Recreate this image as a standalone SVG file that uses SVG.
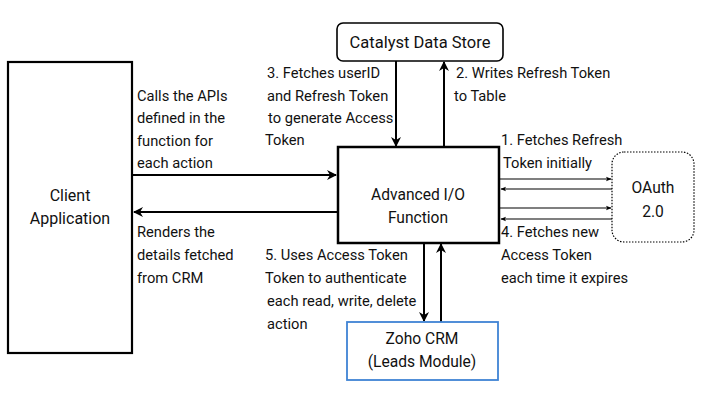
<svg xmlns="http://www.w3.org/2000/svg" width="706" height="403" viewBox="0 0 706 403">
<style>
text{font-family:Roboto,"Liberation Sans",sans-serif;fill:#111}
.lbl{font-size:14.7px}
.node{font-size:15.6px;text-anchor:middle}
.box{fill:#fff;stroke:#000;stroke-width:2.2}
.c{stroke:#000;stroke-width:2;fill:none}
.t{stroke:#000;stroke-width:1.1;fill:none}
</style>
<defs>
<marker id="ah" viewBox="0 0 10 10" refX="9" refY="5" markerWidth="5" markerHeight="5" orient="auto" markerUnits="strokeWidth"><path d="M0,0 L10,5 L0,10 L3,5 z" fill="#000"/></marker>
<marker id="as" viewBox="0 0 10 10" refX="9" refY="5" markerWidth="5" markerHeight="5" orient="auto" markerUnits="strokeWidth"><path d="M0,1 L10,5 L0,9 L2,5 z" fill="#000"/></marker>
</defs>
<rect width="706" height="403" fill="#fff"/>
<g id="connectors">
<line class="c" x1="132" y1="175" x2="336" y2="175" marker-end="url(#ah)"/>
<line class="c" x1="337" y1="212" x2="134" y2="212" marker-end="url(#ah)"/>
<line class="c" x1="396" y1="61" x2="396" y2="146" marker-end="url(#ah)"/>
<line class="c" x1="444" y1="147" x2="444" y2="62" marker-end="url(#ah)"/>
<line class="c" x1="424" y1="243" x2="424" y2="321" marker-end="url(#ah)"/>
<line class="c" x1="441" y1="322" x2="441" y2="244" marker-end="url(#ah)"/>
<line class="t" x1="500" y1="179" x2="611" y2="179" marker-end="url(#as)"/>
<line class="t" x1="612" y1="189" x2="501" y2="189" marker-end="url(#as)"/>
<line class="t" x1="500" y1="208" x2="611" y2="208" marker-end="url(#as)"/>
<line class="t" x1="612" y1="219" x2="501" y2="219" marker-end="url(#as)"/>
</g>
<g id="client">
<rect class="box" x="8" y="62" width="124" height="291"/>
<text class="node" x="70" y="201" style="font-size:16px">Client</text>
<text class="node" x="70" y="224" style="font-size:16px">Application</text>
</g>
<g id="datastore">
<rect class="box" x="337" y="23" width="166" height="38" rx="6" style="stroke-width:1.6"/>
<text class="node" x="420" y="48" style="font-size:16.5px">Catalyst Data Store</text>
</g>
<g id="function">
<rect class="box" x="338" y="147" width="161" height="96" style="stroke-width:2.5"/>
<text class="node" x="418" y="200">Advanced I/O</text>
<text class="node" x="418" y="223">Function</text>
</g>
<g id="oauth">
<rect x="612" y="152" width="82" height="90" rx="12" fill="#fff" stroke="#000" stroke-width="1.2" stroke-dasharray="1.5 1.5"/>
<text class="node" x="653" y="193">OAuth</text>
<text class="node" x="653" y="217">2.0</text>
</g>
<g id="crm">
<rect x="347" y="322" width="151" height="58" fill="#fff" stroke="#3f83d4" stroke-width="1.8"/>
<text class="node" x="422" y="344">Zoho CRM</text>
<text class="node" x="422" y="367">(Leads Module)</text>
</g>
<g id="labels">
<text class="lbl" x="137" y="101">Calls the APIs</text>
<text class="lbl" x="137" y="123">defined in the</text>
<text class="lbl" x="137" y="146">function for</text>
<text class="lbl" x="137" y="168">each action</text>
<text class="lbl" x="267" y="78">3. Fetches userID</text>
<text class="lbl" x="267" y="101">and Refresh Token</text>
<text class="lbl" x="268" y="123">to generate Access</text>
<text class="lbl" x="265" y="145">Token</text>
<text class="lbl" x="456" y="78">2. Writes Refresh Token</text>
<text class="lbl" x="454" y="101">to Table</text>
<text class="lbl" x="501" y="145">1. Fetches Refresh</text>
<text class="lbl" x="503" y="168">Token initially</text>
<text class="lbl" x="137" y="237">Renders the</text>
<text class="lbl" x="137" y="260">details fetched</text>
<text class="lbl" x="137" y="283">from CRM</text>
<text class="lbl" x="265" y="260">5. Uses Access Token</text>
<text class="lbl" x="265" y="283">Token to authenticate</text>
<text class="lbl" x="267" y="306">each read, write, delete</text>
<text class="lbl" x="267" y="329">action</text>
<text class="lbl" x="501" y="237">4. Fetches new</text>
<text class="lbl" x="501" y="260">Access Token</text>
<text class="lbl" x="501" y="283">each time it expires</text>
</g>
</svg>
